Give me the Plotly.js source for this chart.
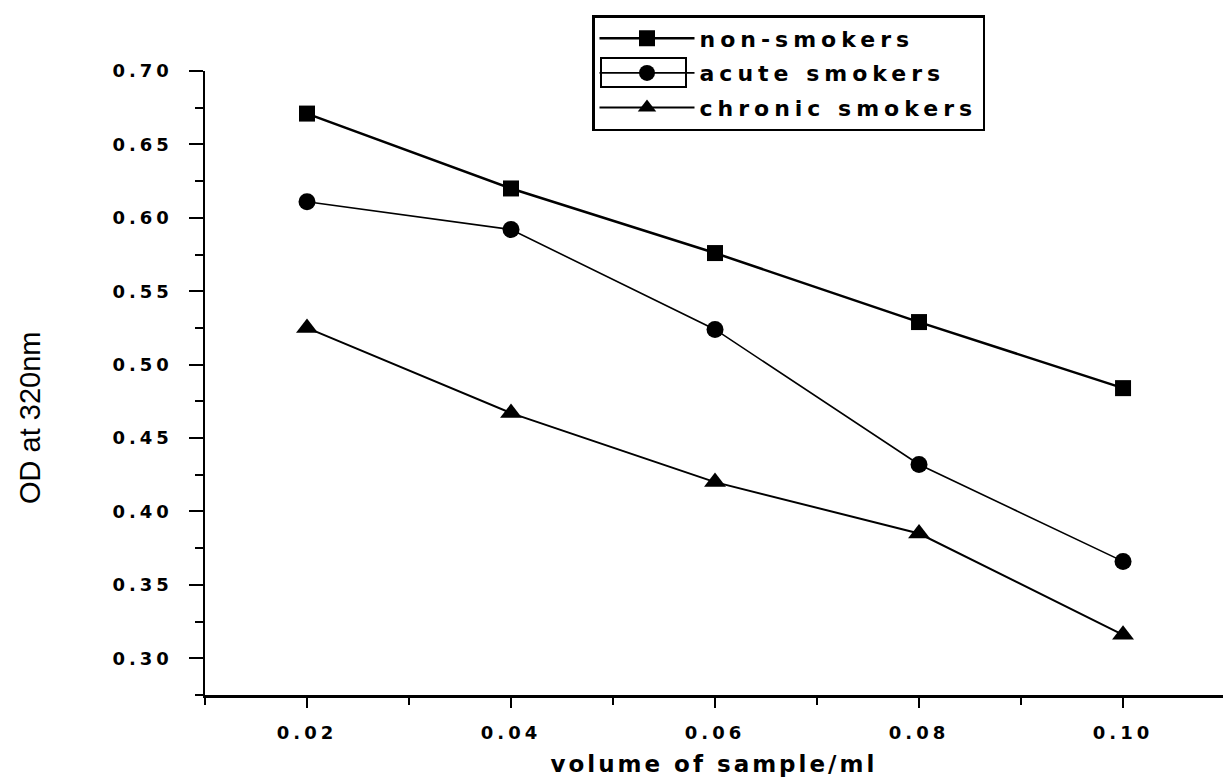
<!DOCTYPE html>
<html><head><meta charset="utf-8">
<script src="https://cdn.plot.ly/plotly-3.0.1.min.js"></script>
<style>
body{margin:0;background:#fff}
#chart{width:1223px;height:780px}
.xtick text,.ytick text{letter-spacing:4px}
.legendtext{letter-spacing:5px}
</style></head><body><div id="chart"></div>
<script>
const volume=[0.02,0.04,0.06,0.08,0.10];
const nonSmokers=[0.671,0.620,0.576,0.529,0.484];
const acuteSmokers=[0.611,0.592,0.524,0.432,0.366];
const chronicSmokers=[0.525,0.467,0.420,0.385,0.316];
const seriesNames=['non-smokers','acute smokers','chronic smokers'];
const xTickVals=[0.02,0.04,0.06,0.08,0.10];
const xTickText=['0.02','0.04','0.06','0.08','0.10'];
const xMinorVals=[0.01,0.03,0.05,0.07,0.09];
const yTickVals=[0.30,0.35,0.40,0.45,0.50,0.55,0.60,0.65,0.70];
const yTickText=['0.30','0.35','0.40','0.45','0.50','0.55','0.60','0.65','0.70'];
const yMinorVals=[0.275,0.325,0.375,0.425,0.475,0.525,0.575,0.625,0.675];
const xTitle='volume of sample/ml';
const yTitle='OD at 320nm';

const traces=[
 {x:volume,y:nonSmokers,name:seriesNames[0],legendgroup:'a',mode:'lines+markers',
  line:{color:'#000',width:2.5},marker:{symbol:'square',size:16,color:'#000'}},
 {x:volume,y:acuteSmokers,name:seriesNames[1],legendgroup:'b',mode:'lines+markers',
  line:{color:'#000',width:1.6},marker:{symbol:'circle',size:17,color:'#000'}},
 {x:volume,y:chronicSmokers,name:seriesNames[2],legendgroup:'c',mode:'lines+markers',
  line:{color:'#000',width:2},marker:{symbol:'triangle-up',size:19,color:'#000'}}
];
const W=1223,H=780,L=205,R=0,T=71,B=85;
const px=v=>(v-L)/(W-L-R), py=v=>(H-B-v)/(H-B-T);
const layout={
 width:W,height:H,margin:{l:L,r:R,t:T,b:B},
 paper_bgcolor:'#fff',plot_bgcolor:'#fff',
 font:{family:'DejaVu Sans, Arial, sans-serif',color:'#000'},
 xaxis:{range:[0.01,0.1098],showgrid:false,zeroline:false,showline:true,linecolor:'#000',linewidth:2.5,
  tickmode:'array',tickvals:xTickVals,ticktext:xTickText,ticks:'outside',ticklen:10,tickwidth:2,tickcolor:'#000',
  ticklabelstandoff:10,tickfont:{size:18,weight:'bold',family:'DejaVu Sans, Arial, sans-serif'},
  minor:{tickmode:'array',tickvals:xMinorVals,ticks:'outside',ticklen:7,tickwidth:2,tickcolor:'#000'}},
 yaxis:{range:[0.275,0.70],showgrid:false,zeroline:false,showline:true,linecolor:'#000',linewidth:2.5,
  tickmode:'array',tickvals:yTickVals,ticktext:yTickText,ticks:'outside',ticklen:14,tickwidth:2,tickcolor:'#000',
  ticklabelstandoff:12,tickfont:{size:18,weight:'bold',family:'DejaVu Sans, Arial, sans-serif'},
  minor:{tickmode:'array',tickvals:yMinorVals,ticks:'outside',ticklen:8,tickwidth:2,tickcolor:'#000'}},
 showlegend:true,
 legend:{x:px(592),y:py(15),xanchor:'left',yanchor:'top',itemwidth:95,
  bgcolor:'rgba(255,255,255,0)',bordercolor:'#000',borderwidth:2.5,tracegroupgap:3,
  font:{size:22,weight:'bold',family:'DejaVu Sans, Arial, sans-serif',color:'#000'}},
 shapes:[
  {type:'rect',xref:'paper',yref:'paper',x0:px(601),x1:px(686),y0:py(58),y1:py(87),line:{color:'#000',width:2},layer:'above'}
 ],
 annotations:[
  {text:xTitle,xref:'paper',yref:'paper',x:0.5,y:-(764-(H-B))/(H-B-T),xanchor:'center',yanchor:'middle',showarrow:false,
   font:{size:23,weight:'bold',family:'DejaVu Sans, Arial, sans-serif'}},
  {text:yTitle,xref:'paper',yref:'paper',x:-(L-30)/(W-L-R),y:py(418),xanchor:'center',yanchor:'middle',textangle:-90,showarrow:false,
   font:{size:29,family:'Liberation Sans, Arial, sans-serif'}}
 ]
};
Plotly.newPlot('chart',traces,layout,{displayModeBar:false,staticPlot:true}).then(()=>{
 document.querySelectorAll('.annotation-text').forEach(t=>{ if(t.textContent===xTitle) t.style.letterSpacing='3px'; });
});
</script></body></html>
